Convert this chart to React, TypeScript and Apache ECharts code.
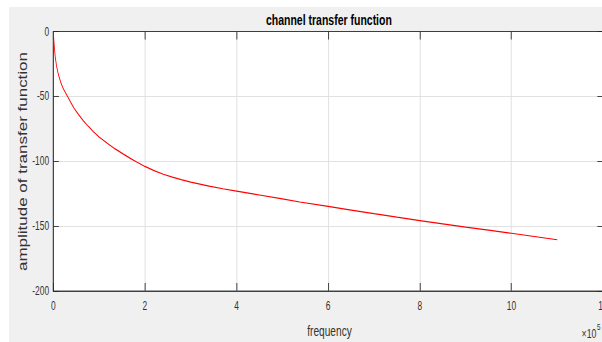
import React, { useEffect, useRef } from "react";
import * as echarts from "echarts";

// frequency in units of 1e5
const freq = [0, 0.01, 0.02, 0.04, 0.07, 0.11, 0.16, 0.22, 0.31, 0.44, 0.55, 0.66, 0.77, 0.87, 1.0, 1.17, 1.35, 1.53, 1.7, 1.82, 2.0, 2.2, 2.4, 2.6, 2.79, 3.0, 3.4, 3.7, 4.0, 4.5, 5.0, 5.38, 6.0, 6.5, 7.0, 7.5, 8.0, 8.5, 9.0, 9.5, 10.0, 10.5, 11.0];
const amplitude = [0, -6, -11, -19, -26.5, -33, -39, -44.3, -50, -58.5, -64, -69, -73.3, -77, -81.3, -86, -90.5, -94.5, -98.2, -100.6, -104, -107.2, -110, -112.3, -114.2, -116.1, -119.2, -121.2, -123, -126, -129, -131.4, -134.8, -137.6, -140.4, -143.1, -145.7, -148.2, -150.7, -153.1, -155.5, -158, -160.5];

const titleText = "channel transfer function";
const xName = "frequency";
const yName = "amplitude of transfer function";
const xExpBase = "×10";
const xExpPow = "5";

const FONT = "'Liberation Sans', Arial, Helvetica, sans-serif";
const SQUEEZE = 0.7;

export default function App() {
  const ref = useRef<HTMLDivElement>(null);

  useEffect(() => {
    if (!ref.current) return;
    const chart = echarts.init(ref.current, undefined, { renderer: "svg" });
    const axisColor = "#262626";
    const gridColor = "#dcdcdc";
    const data = freq.map((f, i) => [f, amplitude[i]]);

    const xCommon = {
      type: "value" as const,
      min: 0,
      max: 12,
      interval: 2,
      axisLine: { show: true, onZero: false, lineStyle: { color: axisColor, width: 1 } },
      axisTick: { show: true, inside: true, length: 8, lineStyle: { color: axisColor } },
    };
    const yCommon = {
      type: "value" as const,
      min: -200,
      max: 0,
      interval: 50,
      axisLine: { show: true, onZero: false, lineStyle: { color: axisColor, width: 1 } },
      axisTick: { show: true, inside: true, length: 8, lineStyle: { color: axisColor } },
    };

    chart.setOption({
      animation: false,
      backgroundColor: "#f0f0f0",
      grid: {
        left: 63.3,
        right: 65.4,
        top: 24.5,
        bottom: 51,
        show: true,
        backgroundColor: "#ffffff",
        borderColor: axisColor,
        borderWidth: 1,
      },
      xAxis: [
        {
          ...xCommon,
          position: "bottom",
          axisLabel: { color: "#333", fontSize: 12, fontFamily: FONT, margin: 9, showMaxLabel: true },
          splitLine: { show: true, lineStyle: { color: gridColor, width: 1 } },
        },
        {
          ...xCommon,
          position: "top",
          axisLabel: { show: false },
          splitLine: { show: false },
        },
      ],
      yAxis: [
        {
          ...yCommon,
          position: "left",
          axisLabel: { color: "#333", fontSize: 12, fontFamily: FONT, margin: 6 },
          splitLine: { show: true, lineStyle: { color: gridColor, width: 1 } },
        },
        {
          ...yCommon,
          position: "right",
          axisLabel: { show: false },
          splitLine: { show: false },
        },
      ],
      series: [
        {
          type: "line",
          data,
          xAxisIndex: 0,
          yAxisIndex: 0,
          showSymbol: false,
          smooth: false,
          lineStyle: { color: "#ff0000", width: 1.2 },
          itemStyle: { color: "#ff0000" },
        },
      ],
      graphic: [
        {
          type: "text",
          x: 457,
          y: 12.5,
          style: {
            text: titleText,
            font: `bold 15px ${FONT}`,
            fill: "#000",
            align: "center",
            verticalAlign: "middle",
          },
        },
        {
          type: "text",
          x: 20.4,
          y: 154.5,
          rotation: Math.PI / 2,
          style: {
            text: yName,
            font: `17px ${FONT}`,
            fill: "#333",
            align: "center",
            verticalAlign: "middle",
          },
        },
        {
          type: "text",
          x: 457.9,
          y: 324.7,
          style: {
            text: xName,
            font: `14.5px ${FONT}`,
            fill: "#333",
            align: "center",
            verticalAlign: "middle",
          },
        },
        {
          type: "text",
          x: 818,
          y: 326.3,
          style: {
            text: xExpBase,
            font: `12.5px ${FONT}`,
            fill: "#333",
            align: "left",
            verticalAlign: "middle",
          },
        },
        {
          type: "text",
          x: 840,
          y: 320.5,
          style: {
            text: xExpPow,
            font: `9px ${FONT}`,
            fill: "#333",
            align: "left",
            verticalAlign: "middle",
          },
        },
      ],
    });

    return () => {
      chart.dispose();
    };
  }, []);

  return (
    <div
      style={{
        position: "absolute",
        left: 0,
        top: 0,
        width: 602,
        height: 342,
        overflow: "hidden",
        background: "#ffffff",
      }}
    >
      <div
        ref={ref}
        style={{
          position: "absolute",
          left: 9,
          top: 7,
          width: 914,
          height: 335,
          transform: `scaleX(${SQUEEZE})`,
          transformOrigin: "0 0",
        }}
      />
    </div>
  );
}
